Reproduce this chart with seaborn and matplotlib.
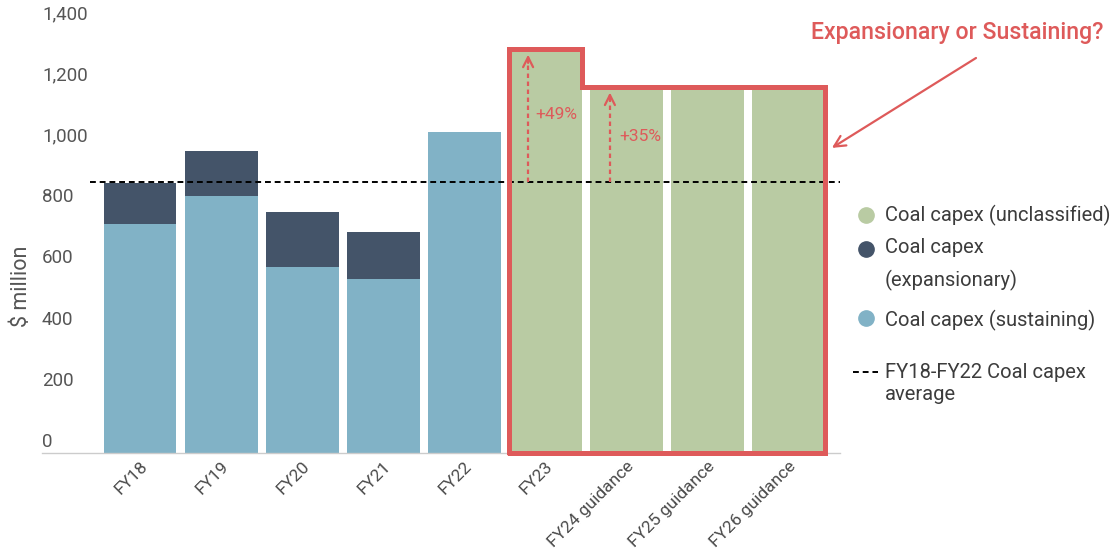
import matplotlib
matplotlib.use("Agg")
import matplotlib.pyplot as plt
from matplotlib.lines import Line2D
import seaborn as sns
import pandas as pd

# --- data ($ million) ---
categories = ["FY18", "FY19", "FY20", "FY21", "FY22", "FY23",
              "FY24 guidance", "FY25 guidance", "FY26 guidance"]
sustaining = [750, 842, 607, 569, 1049, 0, 0, 0, 0]
expansionary = [134, 147, 181, 155, 0, 0, 0, 0, 0]
unclassified = [0, 0, 0, 0, 0, 1321, 1197, 1197, 1197]
y_ticks = [0, 200, 400, 600, 800, 1000, 1200, 1400]

totals = [s + e for s, e in zip(sustaining, expansionary)]
hist_avg = sum(totals[:5]) / 5

C_SUST = "#81b2c6"
C_EXP = "#445469"
C_UNC = "#b9cba3"
C_RED = "#de5a5a"
C_TXT = "#4a4a4a"

sns.set_theme(style="white")
plt.rcParams["font.family"] = ["Roboto", "DejaVu Sans"]

fig = plt.figure(figsize=(11.16, 5.54), dpi=100)
W, H = 1116, 554
ax = fig.add_axes([42 / W, (H - 453) / H, (840 - 42) / W, (453 - 25) / H])

df = pd.DataFrame({"cat": categories, "total": totals,
                   "sust": sustaining, "unc": unclassified})
bw = 0.9
for col, colour in [("total", C_EXP), ("sust", C_SUST), ("unc", C_UNC)]:
    sns.barplot(data=df, x="cat", y=col, order=categories, color=colour,
                saturation=1, width=bw, linewidth=0, ax=ax)

ax.set_xlim(-1.21, 8.64)
ax.set_ylim(0, 1400)

# average line across the plot
ax.plot([-0.62, 8.64], [hist_avg, hist_avg], color="black", lw=1.4,
        linestyle=(0, (3, 2)), zorder=5)

# outline around the forecast bars, following their tops
i23 = categories.index("FY23")
hw = bw / 2
last = len(categories) - 1
xs = [i23 - hw, i23 - hw, i23 + hw, i23 + hw, last + hw, last + hw, i23 - hw]
ys = [0, unclassified[i23], unclassified[i23], unclassified[i23 + 1],
      unclassified[i23 + 1], 0, 0]
ax.plot(xs, ys, color=C_RED, lw=3.6, solid_joinstyle="miter", zorder=6,
        clip_on=False)

# dotted growth arrows from the average
for idx, dx, tx, ty in [(i23, -0.21, 0.14, 1106), (i23 + 1, -0.2, 0.17, 1034)]:
    top = unclassified[idx]
    x = idx + dx
    pct = round((top / hist_avg - 1) * 100)
    ax.plot([x, x], [hist_avg, top - 40], color=C_RED, lw=1.6,
            linestyle=(0, (2, 1.6)), zorder=7)
    ax.annotate("", xy=(x, top - 18), xytext=(x, top - 45),
                arrowprops=dict(arrowstyle="->", color=C_RED, lw=1.6,
                                mutation_scale=18, shrinkA=0, shrinkB=0),
                zorder=7)
    ax.text(idx + tx, ty, f"+{pct}%", color=C_RED, fontsize=12.5,
            ha="center", va="center", zorder=7)

# headline question with pointer
fig.text(957 / W, 1 - 32 / H, "Expansionary or Sustaining?", color=C_RED,
         fontsize=16.7, fontweight="medium", ha="center", va="center")
ax.annotate("", xy=(8.54, 998), xycoords="data",
            xytext=(976 / W, 1 - 58 / H), textcoords="figure fraction",
            arrowprops=dict(arrowstyle="->", color=C_RED, lw=1.6,
                            mutation_scale=20, shrinkA=0, shrinkB=0))

# axes styling
for s in ["top", "right", "left"]:
    ax.spines[s].set_visible(False)
ax.spines["bottom"].set_color("#cccccc")
ax.spines["bottom"].set_linewidth(1.0)
ax.set_yticks(y_ticks)
ax.set_yticklabels([])
ax.tick_params(axis="y", length=0)
for v in y_ticks:
    ax.annotate(f"{v:,}", xy=(0, v), xycoords=("axes fraction", "data"),
                xytext=(0, 1.5), textcoords="offset points",
                ha="left", va="bottom", fontsize=13.5, color="#555555")

ax.set_xlabel("")
ax.set_ylabel("$ million", fontsize=15.5, color="#555555")
ax.yaxis.set_label_coords(-0.012, 0.39)
ax.tick_params(axis="x", length=0, pad=4)
for lab in ax.get_xticklabels():
    lab.set_rotation(45)
    lab.set_ha("right")
    lab.set_va("top")
    lab.set_rotation_mode("anchor")
    lab.set_fontsize(12.5)
    lab.set_color(C_TXT)

# legend, laid out entry by entry
LEG_FS = 14.5
LEG_C = "#3c3c3c"
marker_x = 866 / W
text_x = 885 / W
legend_entries = [
    (C_UNC, 215, ["Coal capex (unclassified)"], [215]),
    (C_EXP, 249, ["Coal capex", "(expansionary)"], [248, 280]),
    (C_SUST, 318, ["Coal capex (sustaining)"], [320]),
]
for colour, my, lines, ly in legend_entries:
    fig.add_artist(Line2D([marker_x], [1 - my / H], marker="o", ls="",
                          ms=11, color=colour, transform=fig.transFigure))
    for txt, yy in zip(lines, ly):
        fig.text(text_x, 1 - yy / H, txt, fontsize=LEG_FS, color=LEG_C,
                 ha="left", va="center")
fig.add_artist(Line2D([853 / W, 878 / W], [1 - 372 / H, 1 - 372 / H],
                      color="black", lw=1.4, ls=(0, (3, 2)),
                      transform=fig.transFigure))
for txt, yy in [("FY18-FY22 Coal capex", 372), ("average", 394)]:
    fig.text(text_x, 1 - yy / H, txt, fontsize=LEG_FS, color=LEG_C,
             ha="left", va="center")

fig.savefig("out.png", dpi=100)
